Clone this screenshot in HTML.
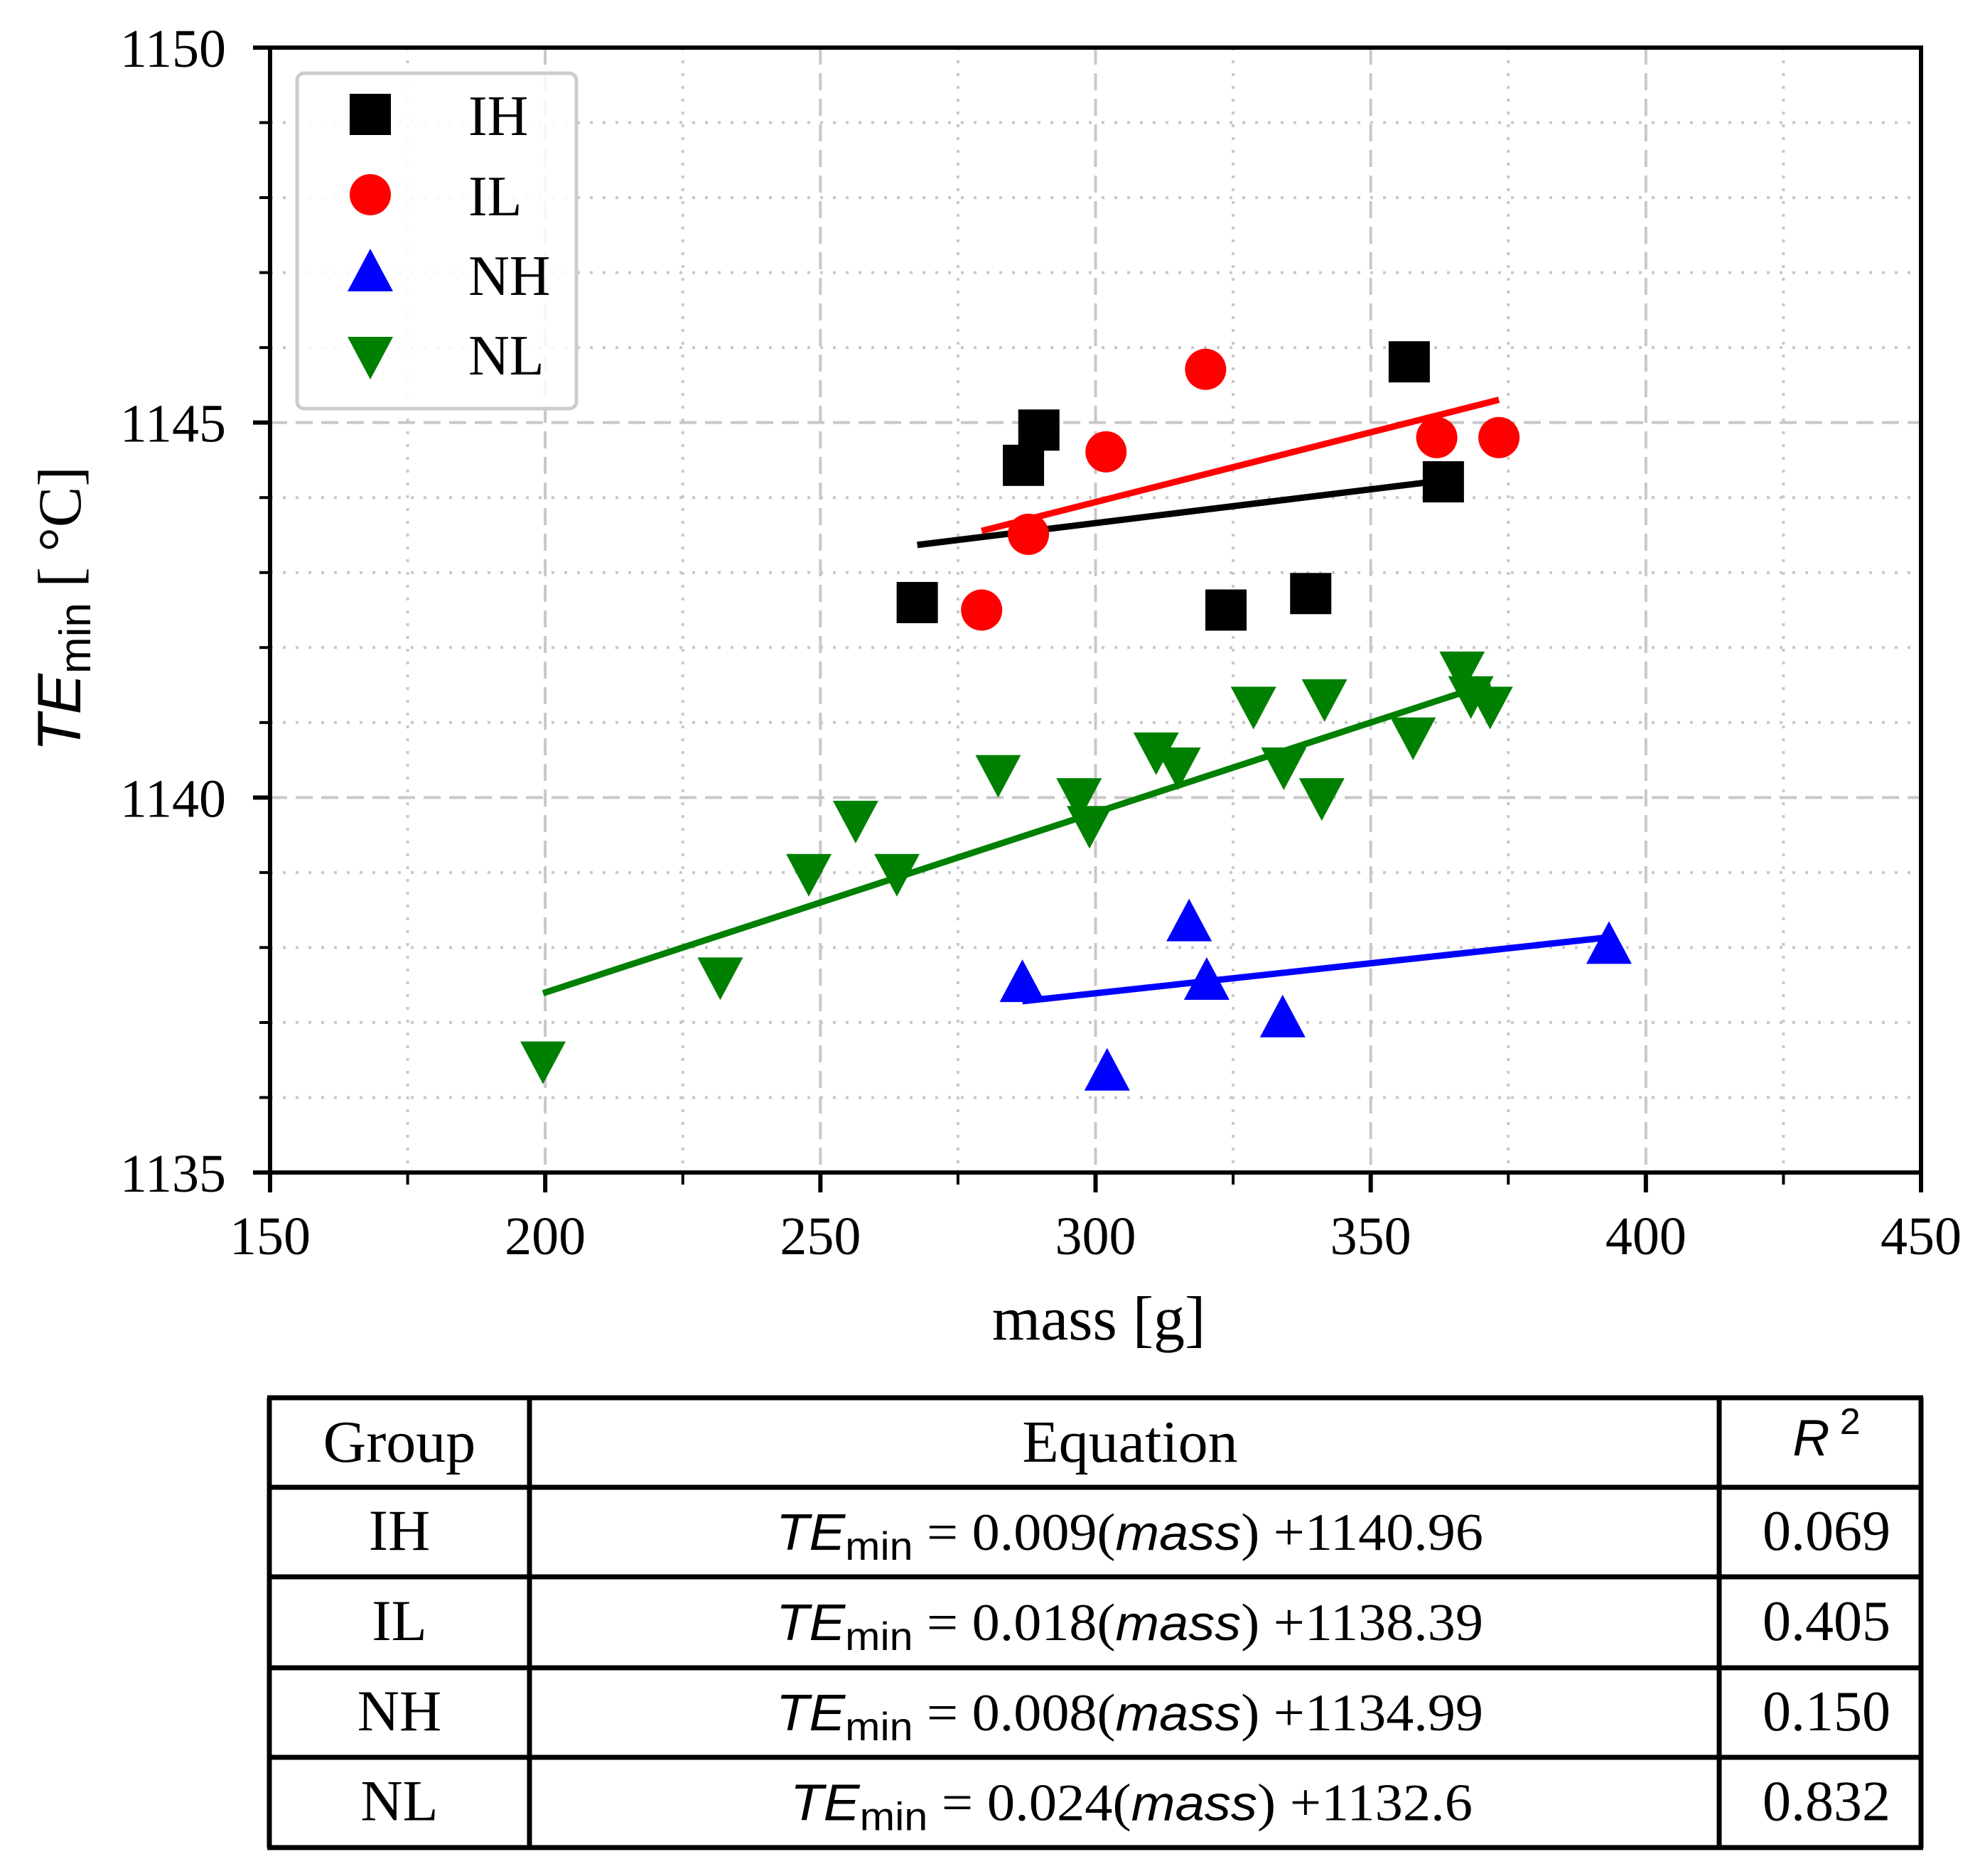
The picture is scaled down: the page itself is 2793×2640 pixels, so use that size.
<!DOCTYPE html>
<html><head><meta charset="utf-8"><style>
html,body{margin:0;padding:0;background:#fff}
svg{display:block}
text{font-family:"Liberation Serif",serif;fill:#000}
.sans{font-family:"Liberation Sans",sans-serif}
</style></head><body>
<svg id="chart" width="2793" height="2640" viewBox="0 0 2793 2640" xmlns="http://www.w3.org/2000/svg">
<g id="grid"></g>
<g id="fits"></g>
<g id="marks"></g>
<g id="axes"></g>
<g id="legend">
  <rect x="418" y="103" width="393" height="472" rx="10" fill="#fff" fill-opacity="0.85" stroke="#ccc" stroke-width="5"/>
</g>
<text x="1546" y="1885" font-size="88" text-anchor="middle">mass [g]</text>
<text transform="translate(113,857) rotate(-90)" font-size="86" text-anchor="middle"><tspan class="sans" font-style="italic">TE</tspan><tspan class="sans" font-size="62" dy="14">min</tspan><tspan dy="-14"> [ °C]</tspan></text>
<g id="table"></g>
</svg>
<script>
const groups = ['IH','IL','NH','NL'];
const colors = ['#000000','#ff0000','#0000ff','#008000'];
const ihX = [267.6,286.9,289.7,323.7,339.1,357.0,363.2];
const ihY = [1142.60,1144.43,1144.90,1142.50,1142.72,1145.81,1144.21];
const ilX = [279.3,287.8,301.9,320.0,362.0,373.3];
const ilY = [1142.50,1143.51,1144.61,1145.71,1144.80,1144.80];
const nhX = [286.7,302.1,317.0,320.2,334.0,393.3];
const nhY = [1137.50,1136.32,1138.31,1137.53,1137.03,1138.01];
const nlX = [199.6,231.8,247.9,256.4,263.9,282.3,297.0,298.9,311.0,315.0,328.7,334.2,341.1,341.6,357.7,366.6,368.2,371.7];
const nlY = [1136.52,1137.64,1139.02,1139.73,1139.02,1140.34,1140.03,1139.66,1140.64,1140.44,1141.25,1140.44,1140.03,1141.35,1140.84,1141.72,1141.39,1141.25];
const slopes = [0.009,0.0186,0.008,0.024];
const intercepts = [1140.96,1138.36,1134.99,1132.6];
const eqSlopeLabels = ['0.009','0.018','0.008','0.024'];
const eqInterceptLabels = ['+1140.96','+1138.39','+1134.99','+1132.6'];
const r2Labels = ['0.069','0.405','0.150','0.832'];
const xTicks = [150,200,250,300,350,400,450];
const yTicks = [1135,1140,1145,1150];

const NS='http://www.w3.org/2000/svg';
const L=380,R=2703,T=67,B=1650;
const xMin=150,xMax=450,yMin=1135,yMax=1150;
const sx=v=>L+(v-xMin)/(xMax-xMin)*(R-L);
const sy=v=>B-(v-yMin)/(yMax-yMin)*(B-T);
function mk(tag,attrs,parent){const e=document.createElementNS(NS,tag);for(const k in attrs)e.setAttribute(k,attrs[k]);parent.appendChild(e);return e;}
const grid=document.getElementById('grid'),axes=document.getElementById('axes'),marks=document.getElementById('marks'),fits=document.getElementById('fits'),legend=document.getElementById('legend'),table=document.getElementById('table');

for(let v=xMin+25;v<xMax;v+=25){
  const major=(v%50===0);
  const ln=mk('line',{x1:sx(v),x2:sx(v),y1:T,y2:B,stroke:'#c8c8c8','stroke-width':4,'stroke-dasharray':major?'24,12':'4,14'},grid);
  
  
}
for(let v=yMin+1;v<yMax;v+=1){
  const major=(v%5===0);
  const ln=mk('line',{x1:L,x2:R,y1:sy(v),y2:sy(v),stroke:'#c8c8c8','stroke-width':4,'stroke-dasharray':major?'24,12':'4,14'},grid);
  
  
}
const allX=[ihX,ilX,nhX,nlX], allY=[ihY,ilY,nhY,nlY];
groups.forEach((g,i)=>{
  const x0=Math.min(...allX[i]),x1=Math.max(...allX[i]);
  const ln=mk('line',{x1:sx(x0),y1:sy(slopes[i]*x0+intercepts[i]),x2:sx(x1),y2:sy(slopes[i]*x1+intercepts[i]),stroke:colors[i],'stroke-width':9},fits);
  
  
});
function marker(type,cx,cy,color,parent){
  let e;
  if(type===0) e=mk('rect',{x:cx-29,y:cy-29,width:58,height:58,fill:color},parent);
  else if(type===1) e=mk('ellipse',{cx:cx,cy:cy,rx:29,ry:29,fill:color},parent);
  else if(type===2) e=mk('polygon',{points:`${cx},${cy-36} ${cx+32},${cy+24} ${cx-32},${cy+24}`,fill:color},parent);
  else e=mk('polygon',{points:`${cx},${cy+36} ${cx+32},${cy-24} ${cx-32},${cy-24}`,fill:color},parent);
  return e;
}
groups.forEach((g,i)=>{
  allX[i].forEach((x,j)=>{
    const e=marker(i,sx(x),sy(allY[i][j]),colors[i],marks);
    
    
  });
});
const fr=mk('rect',{x:L,y:T,width:R-L,height:B-T,fill:'none',stroke:'#000','stroke-width':6},axes);


for(let v=xMin;v<=xMax;v+=25){
  const major=(v%50===0);
  const t=mk('line',{x1:sx(v),x2:sx(v),y1:B,y2:B+(major?28:17),stroke:'#000','stroke-width':major?6:4},axes);
  
  
}
for(let v=yMin;v<=yMax;v+=1){
  const major=(v%5===0);
  const t=mk('line',{x1:L-(major?24:15),x2:L,y1:sy(v),y2:sy(v),stroke:'#000','stroke-width':major?6:4},axes);
  
  
}
xTicks.forEach(v=>{
  const t=mk('text',{x:sx(v),y:B+115,'font-size':76,'text-anchor':'middle'},axes);
  t.textContent=v;
  
  
});
yTicks.forEach(v=>{
  const t=mk('text',{x:318,y:sy(v)+27,'font-size':76,'text-anchor':'end'},axes);
  t.textContent=v;
  
  
});
const legY=[161,274,386,498];
groups.forEach((g,i)=>{
  const m=marker(i,521,legY[i],colors[i],legend);
  
  
  const t=mk('text',{x:659,y:legY[i]+29,'font-size':80},legend);
  t.textContent=g;
  
  
});
const rowsY=[1967,2093,2219,2347,2473,2600];
const colsX=[379,745,2419,2703];
rowsY.forEach(y=>{const l=mk('line',{x1:colsX[0]-3,x2:colsX[3]+3,y1:y,y2:y,stroke:'#000','stroke-width':7},table);});
colsX.forEach(x=>{const l=mk('line',{x1:x,x2:x,y1:rowsY[0],y2:rowsY[5],stroke:'#000','stroke-width':7},table);});
function cellText(x,y,str,anchor,name,fs){const t=mk('text',{x:x,y:y,'font-size':fs||82,'text-anchor':anchor},table);t.textContent=str;return t;}
cellText(562,2057,'Group','middle','header-group',84);
cellText(1590,2057,'Equation','middle','header-equation',84);
const rh=mk('text',{x:2570,y:2048,'font-size':72,'text-anchor':'middle',class:'sans'},table);
rh.innerHTML='<tspan font-style="italic">R</tspan><tspan font-size="52" dy="-30"> 2</tspan>';


groups.forEach((g,i)=>{
  const cy=(rowsY[i+1]+rowsY[i+2])/2+25;
  cellText(562,cy,g,'middle','table-group-'+g.toLowerCase(),82);
  const eq=mk('text',{x:i===3?1112:1092,y:cy,'font-size':74},table);
  eq.innerHTML=`<tspan class="sans" font-style="italic" font-size="72">TE</tspan><tspan class="sans" font-size="56" dy="14">min</tspan><tspan dy="-14"> = ${eqSlopeLabels[i]}(</tspan><tspan class="sans" font-style="italic" font-size="70">mass</tspan><tspan>) ${eqInterceptLabels[i]}</tspan>`;
  eq.setAttribute('textLength', i===3?960:995);
  eq.setAttribute('lengthAdjust','spacingAndGlyphs');
  
  
  cellText(2570,cy,r2Labels[i],'middle','table-r2-'+g.toLowerCase(),80);
});
</script>
</body></html>
